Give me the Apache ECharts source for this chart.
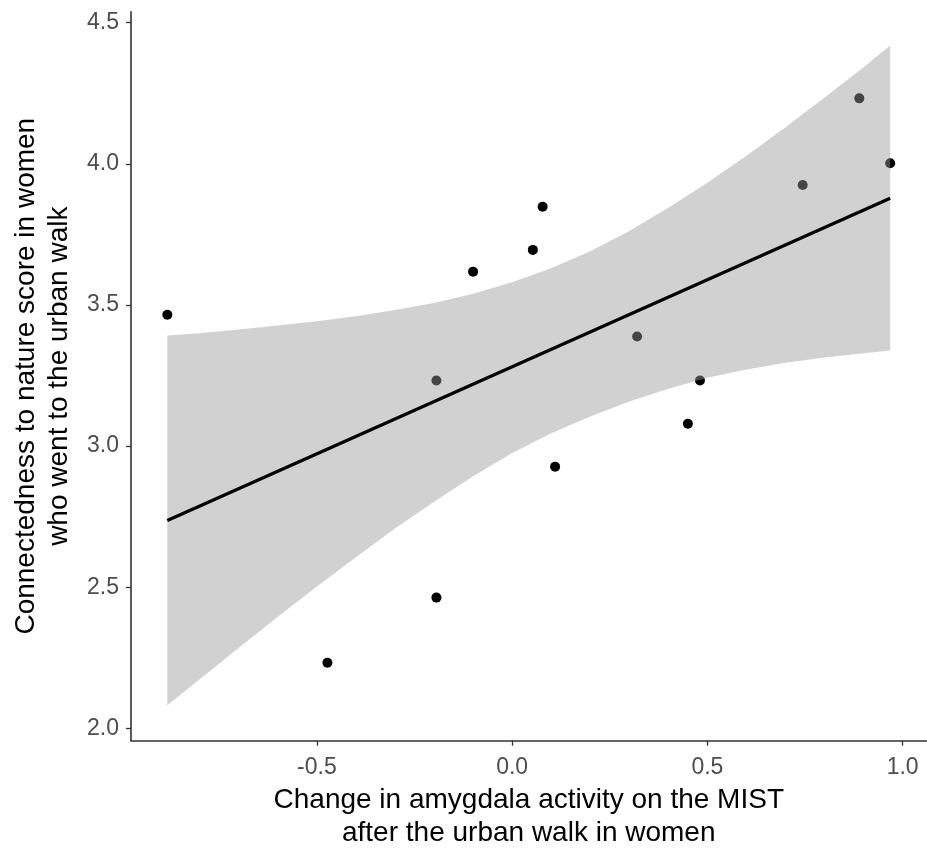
<!DOCTYPE html>
<html>
<head>
<meta charset="utf-8">
<script src="https://cdn.jsdelivr.net/npm/echarts@6/dist/echarts.min.js"></script>
<style>
  html, body { margin: 0; padding: 0; background: #fff; }
  #chart { width: 927px; height: 848px; }
</style>
</head>
<body>
<div id="chart"></div>
<script>
// Observed points: change in amygdala activity (x) vs connectedness score (y)
const pointX = [-0.883, -0.473, -0.194, -0.194, -0.100, 0.053, 0.078, 0.110, 0.320, 0.450, 0.481, 0.744, 0.889, 0.968];
const pointY = [3.465, 2.232, 3.232, 2.463, 3.618, 3.695, 3.848, 2.927, 3.388, 3.079, 3.232, 3.925, 4.232, 4.002];

// Fitted regression line (endpoints)
const fitX = [-0.883, 0.968];
const fitY = [2.736, 3.878];

// Confidence band edges
const bandX     = [-0.883, -0.8, -0.7, -0.6, -0.5, -0.4, -0.3, -0.2, -0.1, 0.0, 0.1, 0.2, 0.3, 0.4, 0.5, 0.6, 0.7, 0.8, 0.9, 0.968];
const bandUpper = [3.392, 3.400, 3.413, 3.427, 3.442, 3.460, 3.482, 3.507, 3.540, 3.580, 3.630, 3.690, 3.762, 3.844, 3.933, 4.029, 4.130, 4.235, 4.342, 4.419];
const bandLower = [2.082, 2.174, 2.285, 2.395, 2.502, 2.606, 2.708, 2.803, 2.893, 2.975, 3.045, 3.105, 3.158, 3.203, 3.242, 3.271, 3.295, 3.314, 3.329, 3.339];

// Tick labels
const xTicks = [-0.5, 0.0, 0.5, 1.0];
const yTicks = [2.0, 2.5, 3.0, 3.5, 4.0, 4.5];

const xTitle = 'Change in amygdala activity on the MIST\nafter the urban walk in women';
const yTitle = 'Connectedness to nature score in women\nwho went to the urban walk';

const FONT = "'Liberation Sans', Arial, Helvetica, sans-serif";

const chart = echarts.init(document.getElementById('chart'), null, { renderer: 'canvas' });

const scatterData = pointX.map((x, i) => [x, pointY[i]]);
const fitData = fitX.map((x, i) => [x, fitY[i]]);

function renderBand(params, api) {
  const upperPts = bandX.map((x, i) => api.coord([x, bandUpper[i]]));
  const lowerPts = bandX.map((x, i) => api.coord([x, bandLower[i]])).reverse();
  return {
    type: 'polygon',
    shape: { points: upperPts.concat(lowerPts) },
    style: { fill: 'rgba(153,153,153,0.45)', stroke: null },
    silent: true
  };
}

const axisCommon = {
  axisLine: { show: true, onZero: false, lineStyle: { color: '#333', width: 1.6 } },
  axisTick: { show: true, length: 5, lineStyle: { color: '#333', width: 1.3 } },
  splitLine: { show: false },
  nameLocation: 'middle',
  nameTextStyle: { fontFamily: FONT, fontSize: 28, color: '#000', lineHeight: 33 }
};

chart.setOption({
  animation: false,
  backgroundColor: '#fff',
  grid: { left: 131, right: 0.5, top: 11.7, bottom: 107.3, containLabel: false, outerBoundsMode: 'none' },
  xAxis: Object.assign({}, axisCommon, {
    type: 'value',
    min: -0.976,
    max: 1.061,
    name: xTitle,
    nameGap: 39,
    axisTick: Object.assign({}, axisCommon.axisTick, { customValues: xTicks }),
    axisLabel: {
      customValues: xTicks,
      margin: 15,
      fontFamily: FONT, fontSize: 23, color: '#4d4d4d',
      formatter: v => Number(v).toFixed(1)
    }
  }),
  yAxis: Object.assign({}, axisCommon, {
    type: 'value',
    min: 1.956,
    max: 4.539,
    name: yTitle,
    nameGap: 46,
    axisTick: Object.assign({}, axisCommon.axisTick, { customValues: yTicks }),
    axisLabel: {
      customValues: yTicks,
      margin: 12,
      fontFamily: FONT, fontSize: 23, color: '#4d4d4d',
      formatter: v => Number(v).toFixed(1)
    }
  }),
  series: [
    {
      type: 'scatter',
      data: scatterData,
      symbol: 'circle',
      symbolSize: 10,
      itemStyle: { color: '#000', opacity: 1 },
      silent: true,
      z: 2
    },
    {
      type: 'custom',
      renderItem: renderBand,
      data: [[bandX[0], bandLower[0]]],
      silent: true,
      z: 3
    },
    {
      type: 'line',
      data: fitData,
      symbol: 'none',
      lineStyle: { color: '#000', width: 3.2 },
      silent: true,
      z: 4
    }
  ]
});
</script>
</body>
</html>
